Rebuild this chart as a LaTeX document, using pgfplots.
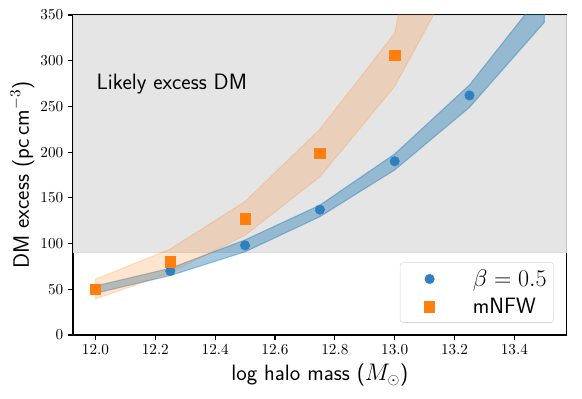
\documentclass[border=0pt]{standalone}
\usepackage{pgfplots}
\pgfplotsset{compat=1.18}
\usepackage{xcolor}
\definecolor{tabblue}{HTML}{1F77B4}
\definecolor{taborange}{HTML}{FF7F0E}
\definecolor{ptblue}{HTML}{3080C0}

\begin{document}
\begin{tikzpicture}
\begin{axis}[
  scale only axis, width=355.5pt, height=230.4pt,
  xmin=11.925, xmax=13.575, ymin=0, ymax=350,
  xtick={12.0,12.2,12.4,12.6,12.8,13.0,13.2,13.4},
  ytick={0,50,100,150,200,250,300,350},
  xticklabel style={/pgf/number format/.cd,fixed,fixed zerofill,precision=1},
  tick label style={font=\fontsize{10.5}{12}\selectfont},
  tick align=outside, tick pos=left, major tick length=3.5pt,
  every tick/.style={black, line width=0.8pt},
  axis line style={line width=0.8pt},
  xlabel={\sffamily log halo mass ($M_\odot$)},
  ylabel={\sffamily DM excess (pc\,cm$^{-3}$)},
  label style={font=\fontsize{16}{19}\selectfont},
  ylabel style={yshift=-2.5pt},
  legend cell align=left,
  legend style={at={(0.974,0.038)}, anchor=south east,
    draw=black!15, rounded corners=2pt, fill=white, fill opacity=0.8, text opacity=1,
    font=\sffamily\fontsize{16}{19}\selectfont, row sep=3pt, inner sep=3pt},
  legend image code/.code={%
    \path (-18pt,0pt) (29pt,0pt);
    \draw[#1, only marks, fill opacity=1, draw opacity=1,
      mark options={fill opacity=1, draw opacity=1}] plot coordinates {(0pt,0pt)};},
]
% likely excess region
\addplot[fill=black!10, draw=black!14, line width=0.6pt, forget plot]
  coordinates {(11.925,90) (13.575,90) (13.575,350) (11.925,350)} -- cycle;
% blue band (upper then lower reversed)
\addplot[fill=tabblue, fill opacity=0.4, draw=tabblue, draw opacity=0.4, line width=0.8pt, forget plot]
  coordinates {(12.0,53.6) (12.25,73) (12.5,104) (12.75,142) (13.0,198) (13.25,273.5) (13.5,377)
               (13.5,342) (13.25,249) (13.0,180.5) (12.75,129.4) (12.5,91) (12.25,65) (12.0,45.6)} -- cycle;
% orange band
\addplot[fill=taborange, fill opacity=0.2, draw=taborange, draw opacity=0.2, line width=0.8pt, forget plot]
  coordinates {(12.0,61) (12.25,94) (12.5,146) (12.75,225) (13.0,330) (13.25,730)
               (13.25,422) (13.0,272) (12.75,173) (12.5,109) (12.25,68) (12.0,39.4)} -- cycle;
\addplot[only marks, mark=*, mark size=3.4pt, color=ptblue,
  mark options={draw=ptblue, fill=ptblue, line width=0.4pt}]
  coordinates {(12.0,49.5) (12.25,70) (12.5,98) (12.75,137) (13.0,190) (13.25,262)};
\addlegendentry{$\beta=0.5$}
\addplot[only marks, mark=square*, mark size=3.7pt, color=taborange,
  mark options={draw=taborange, fill=taborange, line width=0.4pt}]
  coordinates {(12.0,50) (12.25,80) (12.5,127) (12.75,199) (13.0,306)};
\addlegendentry{mNFW}
\node[anchor=base west, font=\sffamily\fontsize{16}{19}\selectfont, inner sep=0pt]
  at (axis cs:12.003,269) {Likely excess DM};
\end{axis}
\pgfresetboundingbox
\path (current axis.south west) ++(-52.6pt,-45.4pt) coordinate (bbA);
\path (current axis.north east) ++(11pt,10.8pt) coordinate (bbB);
\path[use as bounding box] (bbA) rectangle (bbB);
\end{tikzpicture}
\end{document}
